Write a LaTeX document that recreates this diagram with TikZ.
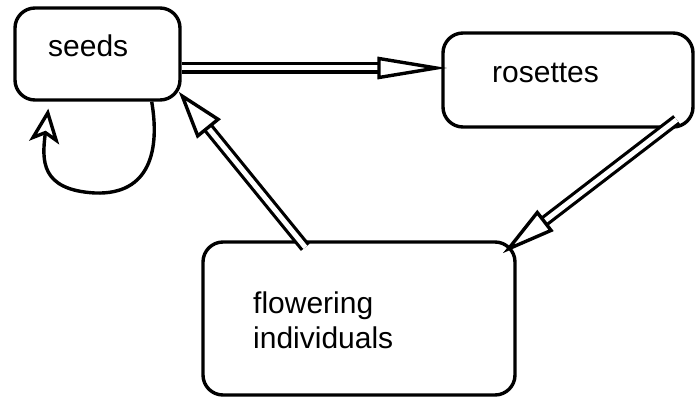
\documentclass[tikz,border=0pt]{standalone}
\usepackage{fontspec}
\setmainfont{Liberation Sans}
\usepackage{tikz}
\usetikzlibrary{arrows.meta, positioning, calc}
\tikzset{
    stagebox/.style={
        rectangle,
        rounded corners=20pt,
        draw=black,
        line width=3.4pt,
        inner sep=0pt
    },
    stagelabel/.style={
        font=\fontsize{30}{35}\selectfont,
        inner sep=0pt,
        align=left
    },
    transition/.style 2 args={
        draw=black,
        line width=3.2pt,
        double=white,
        double distance=5pt,
        -{Triangle[line width=3.4pt, fill=white, length=#1, width=#2]}
    },
    selfloop/.style={
        draw=black,
        line width=3.4pt,
        -{Stealth[open, line width=3.4pt, length=34pt, width=30pt, inset=8pt]}
    }
}

\begin{document}
\begin{tikzpicture}[x=1pt, y=-1pt]
\useasboundingbox (0,0) rectangle (696,404);

% Stages
\node[stagebox, minimum width=165pt, minimum height=92pt] (seeds) at (97.5,54) {};
\node[stagebox, minimum width=250pt, minimum height=94pt] (rosettes) at (568,80) {};
\node[stagebox, minimum width=312pt, minimum height=153pt] (flowering) at (359,318.5) {};

% Labels
\node[stagelabel, anchor=base west] (seedslbl) at (48,57) {seeds};
\node[stagelabel, anchor=base west] (rosetteslbl) at (492,82) {rosettes};
\node[stagelabel, anchor=north west] (floweringlbl) at (253,292) {flowering\\individuals};

% Transitions
\draw[transition={70pt}{22pt}] ([yshift=-14pt]seeds.east) -- ([xshift=6pt, yshift=12pt]rosettes.west);
\draw[transition={54pt}{26pt}] ([xshift=-18pt, yshift=9pt]rosettes.south east) -- ([xshift=-14pt, yshift=-13pt]flowering.north east);
\draw[transition={48pt}{30pt}] ([xshift=104pt, yshift=-7pt]flowering.north west) -- ([xshift=-3pt, yshift=10pt]seeds.south east);

% Seeds staying in the seed bank
\draw[selfloop] ([xshift=-30pt]seeds.south east) .. controls (160,150) and (150,195) .. (95,193)
    .. controls (40,190) and (42,160) .. ([xshift=35pt, yshift=-7pt]seeds.south west);

\end{tikzpicture}
\end{document}
